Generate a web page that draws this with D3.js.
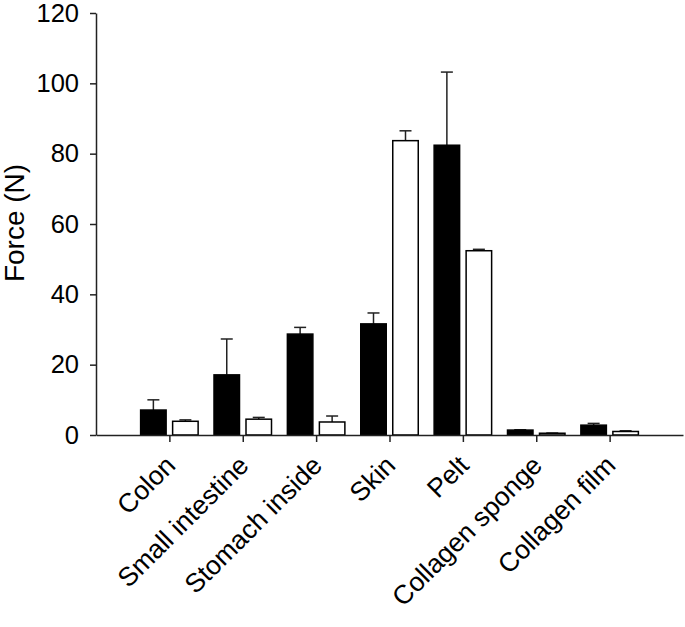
<!DOCTYPE html>
<html><head><meta charset="utf-8">
<script src="https://cdn.jsdelivr.net/npm/d3@7"></script>
<style>body{margin:0;background:#fff}svg{display:block}text{font-family:"Liberation Sans",Arial,sans-serif}</style>
</head><body><svg id="c" width="685" height="627"></svg>
<script>
const categories = ["Colon","Small intestine","Stomach inside","Skin","Pelt","Collagen sponge","Collagen film"];
const blackValues = [7.1, 17.1, 28.7, 31.6, 82.4, 1.4, 2.8];
const blackErrors = [2.9, 10.2, 1.9, 3.1, 20.8, 0.1, 0.5];
const whiteValues = [3.9, 4.5, 3.7, 83.7, 52.4, 0.5, 1.0];
const whiteErrors = [0.4, 0.5, 1.7, 2.8, 0.4, 0.05, 0.2];
const yTicks = [0, 20, 40, 60, 80, 100, 120];

(function () {
const svg = d3.select("#c");
const mLeft = 96, mRight = 683, mTop = 13, mBottom = 435;
const x = d3.scaleLinear().domain([0, categories.length + 1]).range([mLeft, mRight]);
const y = d3.scaleLinear().domain([0, 120]).range([mBottom, mTop]);
const bw = 27, gap = 2.5;

const series = [
  {vals: blackValues, errs: blackErrors, fill: "#000", off: -gap - bw},
  {vals: whiteValues, errs: whiteErrors, fill: "#fff", off: gap}
];
series.forEach(s => {
  const g = svg.append("g");
  categories.forEach((c, i) => {
    const cx = x(i + 1) + s.off;
    const v = s.vals[i], e = s.errs[i];
    const mid = cx + bw / 2;
    g.append("line").attr("x1", mid).attr("x2", mid).attr("y1", y(v)).attr("y2", y(v + e))
      .attr("stroke", "#222").attr("stroke-width", 1.5);
    g.append("line").attr("x1", mid - 6).attr("x2", mid + 6).attr("y1", y(v + e)).attr("y2", y(v + e))
      .attr("stroke", "#222").attr("stroke-width", 1.5);
    g.append("rect").attr("x", cx + 0.75).attr("y", y(v)).attr("width", bw - 1.5)
      .attr("height", Math.max(0, y(0) - y(v))).attr("fill", s.fill)
      .attr("stroke", "#000").attr("stroke-width", 1.5);
  });
});

const yAxis = svg.append("g").attr("transform", `translate(${mLeft},0)`)
  .call(d3.axisLeft(y).tickValues(yTicks).tickSize(6).tickSizeOuter(0).tickPadding(11));
yAxis.selectAll("text").attr("font-size", 25.5).attr("fill", "#000").attr("font-family", "Liberation Sans, Arial, sans-serif");
yAxis.selectAll("line,path").attr("stroke", "#222").attr("stroke-width", 1.5);

const xAxis = svg.append("g").attr("transform", `translate(0,${mBottom})`)
  .call(d3.axisBottom(x).tickValues(categories.map((c, i) => i + 1)).tickSize(7).tickSizeOuter(0)
    .tickFormat((d) => categories[d - 1]));
xAxis.selectAll("line,path").attr("stroke", "#222").attr("stroke-width", 1.5);
xAxis.selectAll("text").attr("font-size", 26.5).attr("fill", "#000")
  .attr("font-family", "Liberation Sans, Arial, sans-serif")
  .attr("text-anchor", "end").attr("dy", null).attr("y", null)
  .attr("transform", "translate(7,32) rotate(-45)");

svg.append("text").attr("transform", "translate(24,223) rotate(-90)")
  .attr("text-anchor", "middle").attr("font-size", 28).attr("fill", "#000")
  .text("Force (N)");
})();
</script></body></html>
